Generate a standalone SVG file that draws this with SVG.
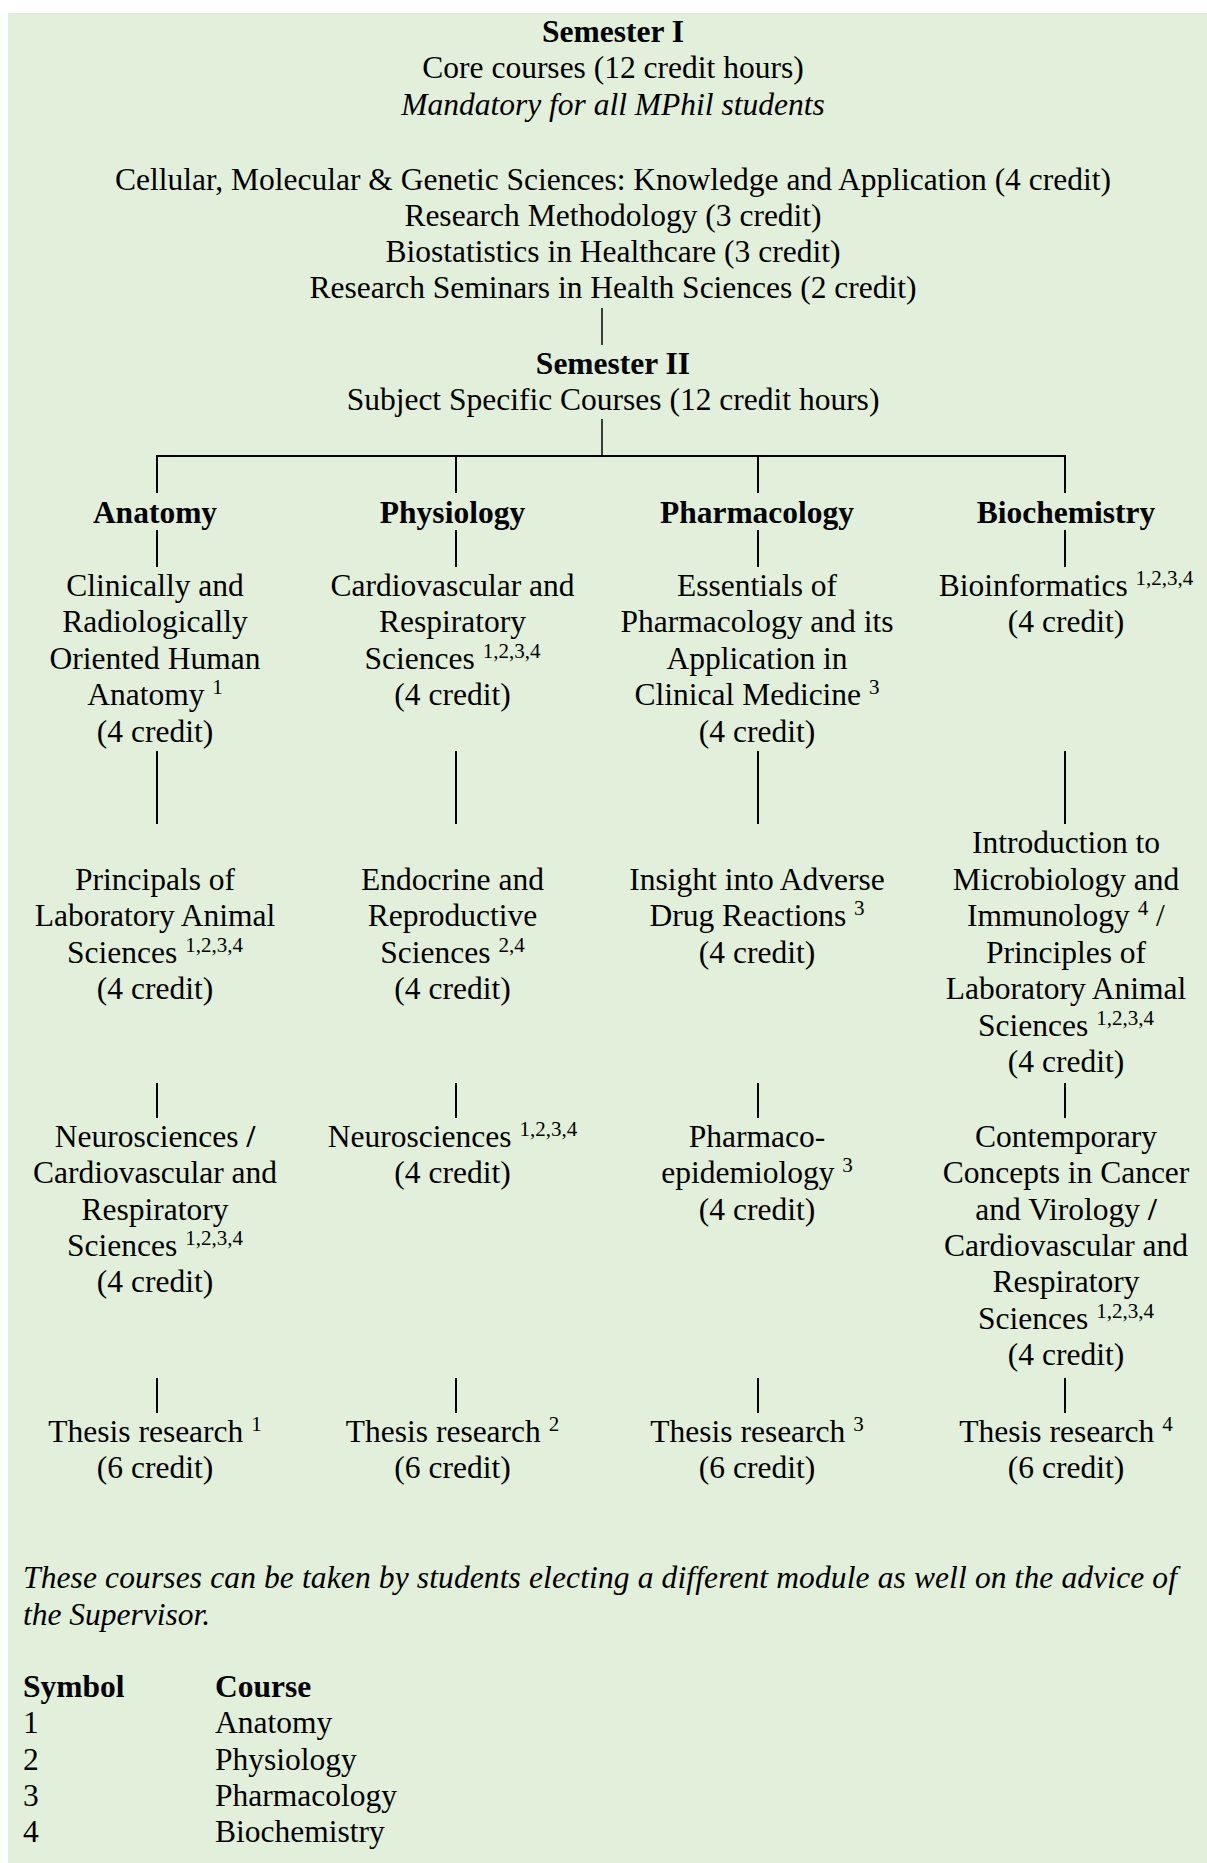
<svg xmlns="http://www.w3.org/2000/svg" width="1207" height="1863" viewBox="0 0 1207 1863">
<style>
text{font-family:"Liberation Serif","Times New Roman",serif;font-size:31.5px;fill:#000}
.c{text-anchor:middle}
.b{font-weight:bold}
.i{font-style:italic}
.sup{font-size:21px}
.ln{stroke:#000;stroke-width:2;fill:none}
.lt{stroke:#000;stroke-width:1.5;fill:none}
</style>
<rect x="8" y="13" width="1199" height="1850" fill="#E2EFDA"/>
<g id="connectors">
<line class="lt" x1="602" y1="308" x2="602" y2="345"/>
<line class="lt" x1="602" y1="419" x2="602" y2="456"/>
<line class="ln" x1="157" y1="456" x2="1066" y2="456"/>
<line class="ln" x1="157" y1="455" x2="157" y2="493"/>
<line class="ln" x1="456" y1="455" x2="456" y2="493"/>
<line class="ln" x1="758" y1="455" x2="758" y2="493"/>
<line class="ln" x1="1065" y1="455" x2="1065" y2="493"/>
<line class="ln" x1="157" y1="530" x2="157" y2="567"/>
<line class="ln" x1="456" y1="530" x2="456" y2="567"/>
<line class="ln" x1="758" y1="530" x2="758" y2="567"/>
<line class="ln" x1="1065" y1="530" x2="1065" y2="567"/>
<line class="ln" x1="157" y1="751" x2="157" y2="824"/>
<line class="ln" x1="456" y1="751" x2="456" y2="824"/>
<line class="ln" x1="758" y1="751" x2="758" y2="824"/>
<line class="ln" x1="1065" y1="751" x2="1065" y2="824"/>
<line class="ln" x1="157" y1="1083" x2="157" y2="1118"/>
<line class="ln" x1="456" y1="1083" x2="456" y2="1118"/>
<line class="ln" x1="758" y1="1083" x2="758" y2="1118"/>
<line class="ln" x1="1065" y1="1083" x2="1065" y2="1118"/>
<line class="ln" x1="157" y1="1378" x2="157" y2="1413"/>
<line class="ln" x1="456" y1="1378" x2="456" y2="1413"/>
<line class="ln" x1="758" y1="1378" x2="758" y2="1413"/>
<line class="ln" x1="1065" y1="1378" x2="1065" y2="1413"/>
</g>
<g id="semester1">
<text class="c b" x="613" y="42">Semester I</text>
<text class="c" x="613" y="78">Core courses (12 credit hours)</text>
<text class="c i" x="613" y="115">Mandatory for all MPhil students</text>
<text class="c" x="613" y="190">Cellular, Molecular &amp; Genetic Sciences: Knowledge and Application (4 credit)</text>
<text class="c" x="613" y="226">Research Methodology (3 credit)</text>
<text class="c" x="613" y="262">Biostatistics in Healthcare (3 credit)</text>
<text class="c" x="613" y="298">Research Seminars in Health Sciences (2 credit)</text>
</g>
<g id="semester2">
<text class="c b" x="613" y="374">Semester II</text>
<text class="c" x="613" y="410">Subject Specific Courses (12 credit hours)</text>
</g>
<g id="anatomy">
<text class="c b" x="155" y="523">Anatomy</text>
</g>
<g id="physiology">
<text class="c b" x="452.5" y="523">Physiology</text>
</g>
<g id="pharmacology">
<text class="c b" x="757" y="523">Pharmacology</text>
</g>
<g id="biochemistry">
<text class="c b" x="1066" y="523">Biochemistry</text>
</g>
<g id="anatomy-1">
<text class="c" x="155" y="596">Clinically and</text>
<text class="c" x="155" y="632">Radiologically</text>
<text class="c" x="155" y="669">Oriented Human</text>
<text class="c" x="155" y="705">Anatomy <tspan class="sup" dy="-11">1</tspan></text>
<text class="c" x="155" y="742">(4 credit)</text>
</g>
<g id="physiology-1">
<text class="c" x="452.5" y="596">Cardiovascular and</text>
<text class="c" x="452.5" y="632">Respiratory</text>
<text class="c" x="452.5" y="669">Sciences <tspan class="sup" dy="-11">1,2,3,4</tspan></text>
<text class="c" x="452.5" y="705">(4 credit)</text>
</g>
<g id="pharmacology-1">
<text class="c" x="757" y="596">Essentials of</text>
<text class="c" x="757" y="632">Pharmacology and its</text>
<text class="c" x="757" y="669">Application in</text>
<text class="c" x="757" y="705">Clinical Medicine <tspan class="sup" dy="-11">3</tspan></text>
<text class="c" x="757" y="742">(4 credit)</text>
</g>
<g id="biochemistry-1">
<text class="c" x="1066" y="596">Bioinformatics <tspan class="sup" dy="-11">1,2,3,4</tspan></text>
<text class="c" x="1066" y="632">(4 credit)</text>
</g>
<g id="anatomy-2">
<text class="c" x="155" y="890">Principals of</text>
<text class="c" x="155" y="926">Laboratory Animal</text>
<text class="c" x="155" y="963">Sciences <tspan class="sup" dy="-11">1,2,3,4</tspan></text>
<text class="c" x="155" y="999">(4 credit)</text>
</g>
<g id="physiology-2">
<text class="c" x="452.5" y="890">Endocrine and</text>
<text class="c" x="452.5" y="926">Reproductive</text>
<text class="c" x="452.5" y="963">Sciences <tspan class="sup" dy="-11">2,4</tspan></text>
<text class="c" x="452.5" y="999">(4 credit)</text>
</g>
<g id="pharmacology-2">
<text class="c" x="757" y="890">Insight into Adverse</text>
<text class="c" x="757" y="926">Drug Reactions <tspan class="sup" dy="-11">3</tspan></text>
<text class="c" x="757" y="963">(4 credit)</text>
</g>
<g id="biochemistry-2">
<text class="c" x="1066" y="853">Introduction to</text>
<text class="c" x="1066" y="890">Microbiology and</text>
<text class="c" x="1066" y="926">Immunology <tspan class="sup" dy="-11">4</tspan><tspan dy="11"> /</tspan></text>
<text class="c" x="1066" y="963">Principles of</text>
<text class="c" x="1066" y="999">Laboratory Animal</text>
<text class="c" x="1066" y="1036">Sciences <tspan class="sup" dy="-11">1,2,3,4</tspan></text>
<text class="c" x="1066" y="1072">(4 credit)</text>
</g>
<g id="anatomy-3">
<text class="c" x="155" y="1147">Neurosciences <tspan class="b">/</tspan></text>
<text class="c" x="155" y="1183">Cardiovascular and</text>
<text class="c" x="155" y="1220">Respiratory</text>
<text class="c" x="155" y="1256">Sciences <tspan class="sup" dy="-11">1,2,3,4</tspan></text>
<text class="c" x="155" y="1292">(4 credit)</text>
</g>
<g id="physiology-3">
<text class="c" x="452.5" y="1147">Neurosciences <tspan class="sup" dy="-11">1,2,3,4</tspan></text>
<text class="c" x="452.5" y="1183">(4 credit)</text>
</g>
<g id="pharmacology-3">
<text class="c" x="757" y="1147">Pharmaco-</text>
<text class="c" x="757" y="1183">epidemiology <tspan class="sup" dy="-11">3</tspan></text>
<text class="c" x="757" y="1220">(4 credit)</text>
</g>
<g id="biochemistry-3">
<text class="c" x="1066" y="1147">Contemporary</text>
<text class="c" x="1066" y="1183">Concepts in Cancer</text>
<text class="c" x="1066" y="1220">and Virology <tspan class="b">/</tspan></text>
<text class="c" x="1066" y="1256">Cardiovascular and</text>
<text class="c" x="1066" y="1292">Respiratory</text>
<text class="c" x="1066" y="1329">Sciences <tspan class="sup" dy="-11">1,2,3,4</tspan></text>
<text class="c" x="1066" y="1365">(4 credit)</text>
</g>
<g id="anatomy-4">
<text class="c" x="155" y="1442">Thesis research <tspan class="sup" dy="-11">1</tspan></text>
<text class="c" x="155" y="1478">(6 credit)</text>
</g>
<g id="physiology-4">
<text class="c" x="452.5" y="1442">Thesis research <tspan class="sup" dy="-11">2</tspan></text>
<text class="c" x="452.5" y="1478">(6 credit)</text>
</g>
<g id="pharmacology-4">
<text class="c" x="757" y="1442">Thesis research <tspan class="sup" dy="-11">3</tspan></text>
<text class="c" x="757" y="1478">(6 credit)</text>
</g>
<g id="biochemistry-4">
<text class="c" x="1066" y="1442">Thesis research <tspan class="sup" dy="-11">4</tspan></text>
<text class="c" x="1066" y="1478">(6 credit)</text>
</g>
<g id="note">
<text class="i" x="23" y="1588" textLength="1154" lengthAdjust="spacing">These courses can be taken by students electing a different module as well on the advice of</text>
<text class="i" x="23" y="1625">the Supervisor.</text>
</g>
<g id="legend">
<text class="b" x="23" y="1697">Symbol</text>
<text class="b" x="215" y="1697">Course</text>
<text x="23" y="1733">1</text>
<text x="215" y="1733">Anatomy</text>
<text x="23" y="1770">2</text>
<text x="215" y="1770">Physiology</text>
<text x="23" y="1806">3</text>
<text x="215" y="1806">Pharmacology</text>
<text x="23" y="1842">4</text>
<text x="215" y="1842">Biochemistry</text>
</g>
</svg>
